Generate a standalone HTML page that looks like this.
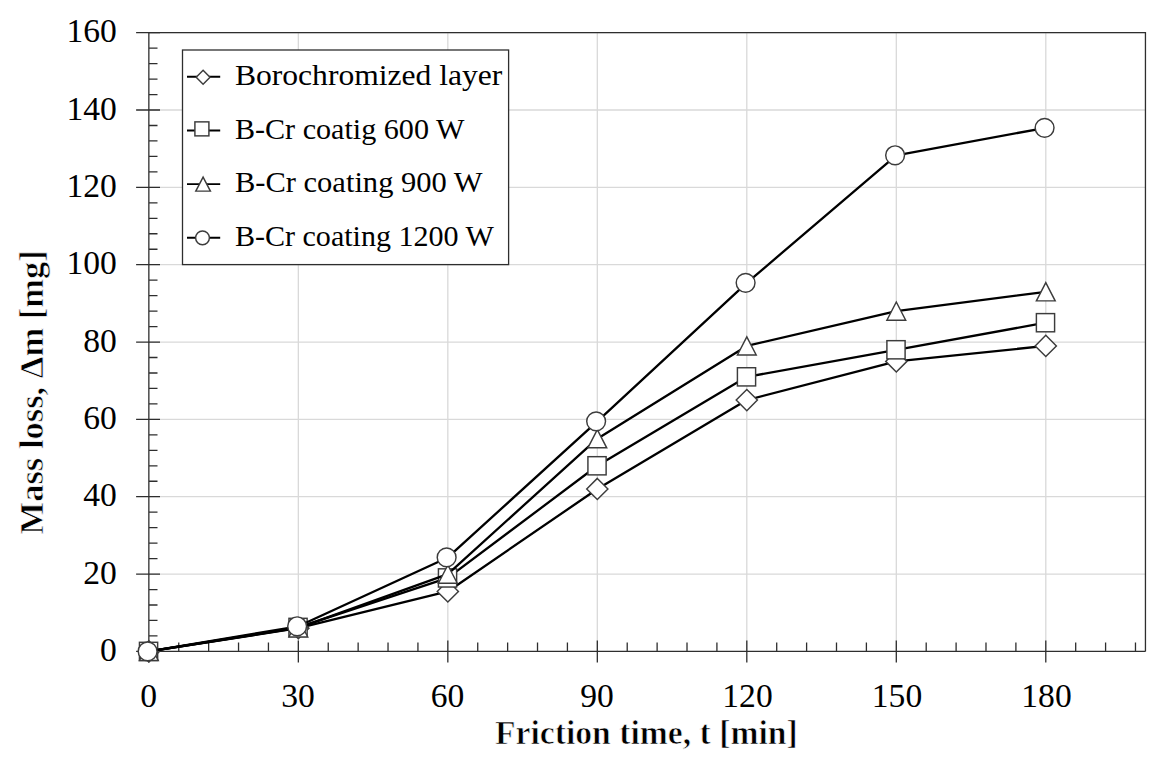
<!DOCTYPE html><html><head><meta charset="utf-8"><style>html,body{margin:0;padding:0;background:#fff;}svg{display:block;}text{font-family:"Liberation Serif",serif;}</style></head><body>
<svg width="1171" height="766" viewBox="0 0 1171 766">
<rect width="1171" height="766" fill="#fff"/>
<path d="M298.34 32.68V651.40M447.83 32.68V651.40M597.32 32.68V651.40M746.81 32.68V651.40M896.30 32.68V651.40M1045.79 32.68V651.40M148.85 574.06H1145.45M148.85 496.72H1145.45M148.85 419.38H1145.45M148.85 342.04H1145.45M148.85 264.70H1145.45M148.85 187.36H1145.45M148.85 110.02H1145.45M148.85 32.68H1145.45" stroke="#d9d9d9" stroke-width="1.3" fill="none"/>
<path d="M148.85 32.68H1145.45V651.40" stroke="#2e2e2e" stroke-width="1.3" fill="none"/>
<path d="M148.85 32.68V651.40M148.85 651.40H1145.45M136.1 651.40H160.0M136.1 574.06H160.0M136.1 496.72H160.0M136.1 419.38H160.0M136.1 342.04H160.0M136.1 264.70H160.0M136.1 187.36H160.0M136.1 110.02H160.0M136.1 32.68H160.0M148.85 635.93H157.5M148.85 620.46H157.5M148.85 605.00H157.5M148.85 589.53H157.5M148.85 558.59H157.5M148.85 543.12H157.5M148.85 527.66H157.5M148.85 512.19H157.5M148.85 481.25H157.5M148.85 465.78H157.5M148.85 450.32H157.5M148.85 434.85H157.5M148.85 403.91H157.5M148.85 388.44H157.5M148.85 372.98H157.5M148.85 357.51H157.5M148.85 326.57H157.5M148.85 311.10H157.5M148.85 295.64H157.5M148.85 280.17H157.5M148.85 249.23H157.5M148.85 233.76H157.5M148.85 218.30H157.5M148.85 202.83H157.5M148.85 171.89H157.5M148.85 156.42H157.5M148.85 140.96H157.5M148.85 125.49H157.5M148.85 94.55H157.5M148.85 79.08H157.5M148.85 63.62H157.5M148.85 48.15H157.5M148.85 640.4V662.4M298.34 640.4V662.4M447.83 640.4V662.4M597.32 640.4V662.4M746.81 640.4V662.4M896.30 640.4V662.4M1045.79 640.4V662.4M178.75 651.40V642.4M208.65 651.40V642.4M238.54 651.40V642.4M268.44 651.40V642.4M328.24 651.40V642.4M358.14 651.40V642.4M388.03 651.40V642.4M417.93 651.40V642.4M477.73 651.40V642.4M507.63 651.40V642.4M537.52 651.40V642.4M567.42 651.40V642.4M627.22 651.40V642.4M657.12 651.40V642.4M687.01 651.40V642.4M716.91 651.40V642.4M776.71 651.40V642.4M806.61 651.40V642.4M836.50 651.40V642.4M866.40 651.40V642.4M926.20 651.40V642.4M956.10 651.40V642.4M985.99 651.40V642.4M1015.89 651.40V642.4M1075.69 651.40V642.4M1105.59 651.40V642.4M1135.48 651.40V642.4" stroke="#2e2e2e" stroke-width="1.3" fill="none"/>
<text transform="translate(116.8,660.90) scale(0.965,0.965)" font-size="34.8" text-anchor="end">0</text>
<text transform="translate(116.8,583.56) scale(0.965,0.965)" font-size="34.8" text-anchor="end">20</text>
<text transform="translate(116.8,506.22) scale(0.965,0.965)" font-size="34.8" text-anchor="end">40</text>
<text transform="translate(116.8,428.88) scale(0.965,0.965)" font-size="34.8" text-anchor="end">60</text>
<text transform="translate(116.8,351.54) scale(0.965,0.965)" font-size="34.8" text-anchor="end">80</text>
<text transform="translate(116.8,274.20) scale(0.965,0.965)" font-size="34.8" text-anchor="end">100</text>
<text transform="translate(116.8,196.86) scale(0.965,0.965)" font-size="34.8" text-anchor="end">120</text>
<text transform="translate(116.8,119.52) scale(0.965,0.965)" font-size="34.8" text-anchor="end">140</text>
<text transform="translate(116.8,42.18) scale(0.965,0.965)" font-size="34.8" text-anchor="end">160</text>
<text transform="translate(148.55,707.2) scale(0.965,0.965)" font-size="34.8" text-anchor="middle">0</text>
<text transform="translate(298.04,707.2) scale(0.965,0.965)" font-size="34.8" text-anchor="middle">30</text>
<text transform="translate(447.53,707.2) scale(0.965,0.965)" font-size="34.8" text-anchor="middle">60</text>
<text transform="translate(597.02,707.2) scale(0.965,0.965)" font-size="34.8" text-anchor="middle">90</text>
<text transform="translate(747.51,707.2) scale(0.965,0.965)" font-size="34.8" text-anchor="middle">120</text>
<text transform="translate(897.00,707.2) scale(0.965,0.965)" font-size="34.8" text-anchor="middle">150</text>
<text transform="translate(1046.49,707.2) scale(0.965,0.965)" font-size="34.8" text-anchor="middle">180</text>
<text transform="translate(646.3,744) scale(0.99,1)" x="0" y="0" font-size="34" font-weight="bold" text-anchor="middle" stroke="#fff" stroke-width="0.7">Friction time, t [min]</text>
<text transform="translate(42.7,392.3) rotate(-90) scale(1.0,1)" x="0" y="0" font-size="34.5" font-weight="bold" text-anchor="middle" stroke="#fff" stroke-width="0.7">Mass loss, Δm [mg]</text>
<path d="M148.85 651.40L298.34 628.20L447.83 591.46L597.32 488.99L746.81 400.04L896.30 361.38L1045.79 345.91" stroke="#000" stroke-width="2.3" fill="none" stroke-linejoin="round"/>
<path d="M148.85 640.80L159.45 651.40L148.85 662.00L138.25 651.40Z" fill="#fff" stroke="#3c3c3c" stroke-width="1.45"/>
<path d="M298.34 617.60L308.94 628.20L298.34 638.80L287.74 628.20Z" fill="#fff" stroke="#3c3c3c" stroke-width="1.45"/>
<path d="M447.83 580.86L458.43 591.46L447.83 602.06L437.23 591.46Z" fill="#fff" stroke="#3c3c3c" stroke-width="1.45"/>
<path d="M597.32 478.39L607.92 488.99L597.32 499.59L586.72 488.99Z" fill="#fff" stroke="#3c3c3c" stroke-width="1.45"/>
<path d="M746.81 389.44L757.41 400.04L746.81 410.64L736.21 400.04Z" fill="#fff" stroke="#3c3c3c" stroke-width="1.45"/>
<path d="M896.30 350.77L906.90 361.38L896.30 371.98L885.70 361.38Z" fill="#fff" stroke="#3c3c3c" stroke-width="1.45"/>
<path d="M1045.79 335.31L1056.39 345.91L1045.79 356.51L1035.19 345.91Z" fill="#fff" stroke="#3c3c3c" stroke-width="1.45"/>
<path d="M148.85 651.40L298.34 627.42L447.83 577.93L597.32 465.78L746.81 376.84L896.30 349.77L1045.79 322.70" stroke="#000" stroke-width="2.3" fill="none" stroke-linejoin="round"/>
<rect x="139.45" y="642.30" width="18.20" height="18.20" fill="#fff" stroke="#3c3c3c" stroke-width="1.45"/>
<rect x="288.94" y="618.32" width="18.20" height="18.20" fill="#fff" stroke="#3c3c3c" stroke-width="1.45"/>
<rect x="438.43" y="568.83" width="18.20" height="18.20" fill="#fff" stroke="#3c3c3c" stroke-width="1.45"/>
<rect x="587.92" y="456.68" width="18.20" height="18.20" fill="#fff" stroke="#3c3c3c" stroke-width="1.45"/>
<rect x="737.41" y="367.74" width="18.20" height="18.20" fill="#fff" stroke="#3c3c3c" stroke-width="1.45"/>
<rect x="886.90" y="340.67" width="18.20" height="18.20" fill="#fff" stroke="#3c3c3c" stroke-width="1.45"/>
<rect x="1036.39" y="313.60" width="18.20" height="18.20" fill="#fff" stroke="#3c3c3c" stroke-width="1.45"/>
<path d="M148.85 651.40L298.34 627.81L447.83 574.06L597.32 438.71L746.81 345.91L896.30 311.10L1045.79 291.77" stroke="#000" stroke-width="2.3" fill="none" stroke-linejoin="round"/>
<path d="M148.85 642.30L158.25 660.50L139.45 660.50Z" fill="#fff" stroke="#3c3c3c" stroke-width="1.45" stroke-linejoin="miter"/>
<path d="M298.34 618.71L307.74 636.91L288.94 636.91Z" fill="#fff" stroke="#3c3c3c" stroke-width="1.45" stroke-linejoin="miter"/>
<path d="M447.83 564.96L457.23 583.16L438.43 583.16Z" fill="#fff" stroke="#3c3c3c" stroke-width="1.45" stroke-linejoin="miter"/>
<path d="M597.32 429.61L606.72 447.81L587.92 447.81Z" fill="#fff" stroke="#3c3c3c" stroke-width="1.45" stroke-linejoin="miter"/>
<path d="M746.81 336.81L756.21 355.01L737.41 355.01Z" fill="#fff" stroke="#3c3c3c" stroke-width="1.45" stroke-linejoin="miter"/>
<path d="M896.30 302.00L905.70 320.20L886.90 320.20Z" fill="#fff" stroke="#3c3c3c" stroke-width="1.45" stroke-linejoin="miter"/>
<path d="M1045.79 282.67L1055.19 300.87L1036.39 300.87Z" fill="#fff" stroke="#3c3c3c" stroke-width="1.45" stroke-linejoin="miter"/>
<path d="M148.85 651.40L298.34 626.26L447.83 557.43L597.32 421.31L746.81 282.87L896.30 155.26L1045.79 127.81" stroke="#000" stroke-width="2.3" fill="none" stroke-linejoin="round"/>
<circle cx="147.65" cy="651.40" r="9.40" fill="#fff" stroke="#3c3c3c" stroke-width="1.45"/>
<circle cx="297.14" cy="626.26" r="9.40" fill="#fff" stroke="#3c3c3c" stroke-width="1.45"/>
<circle cx="446.63" cy="557.43" r="9.40" fill="#fff" stroke="#3c3c3c" stroke-width="1.45"/>
<circle cx="596.12" cy="421.31" r="9.40" fill="#fff" stroke="#3c3c3c" stroke-width="1.45"/>
<circle cx="745.61" cy="282.87" r="9.40" fill="#fff" stroke="#3c3c3c" stroke-width="1.45"/>
<circle cx="895.10" cy="155.26" r="9.40" fill="#fff" stroke="#3c3c3c" stroke-width="1.45"/>
<circle cx="1044.59" cy="127.81" r="9.40" fill="#fff" stroke="#3c3c3c" stroke-width="1.45"/>
<rect x="182.5" y="50" width="326.1" height="214.6" fill="#fff" stroke="#2e2e2e" stroke-width="1.3"/>
<path d="M187 76.80H220.2" stroke="#000" stroke-width="1.9"/>
<path d="M203.10 70.35L210.00 77.25L203.10 84.15L196.20 77.25Z" fill="#fff" stroke="#3c3c3c" stroke-width="1.45"/>
<text x="234.9" y="85.10" font-size="30.3" textLength="267.5" lengthAdjust="spacingAndGlyphs">Borochromized layer</text>
<path d="M187 130.47H220.2" stroke="#000" stroke-width="1.9"/>
<rect x="194.90" y="121.87" width="14.00" height="14.00" fill="#fff" stroke="#3c3c3c" stroke-width="1.45"/>
<text x="234.9" y="138.77" font-size="30.3" textLength="229.5" lengthAdjust="spacingAndGlyphs">B-Cr coatig 600 W</text>
<path d="M187 184.14H220.2" stroke="#000" stroke-width="1.9"/>
<path d="M203.10 177.14L210.40 191.14L195.80 191.14Z" fill="#fff" stroke="#3c3c3c" stroke-width="1.45" stroke-linejoin="miter"/>
<text x="234.9" y="192.44" font-size="30.3" textLength="247.8" lengthAdjust="spacingAndGlyphs">B-Cr coating 900 W</text>
<path d="M187 237.81H220.2" stroke="#000" stroke-width="1.9"/>
<circle cx="202.50" cy="237.81" r="6.90" fill="#fff" stroke="#3c3c3c" stroke-width="1.45"/>
<text x="234.9" y="246.11" font-size="30.3" textLength="259.1" lengthAdjust="spacingAndGlyphs">B-Cr coating 1200 W</text>
</svg></body></html>
